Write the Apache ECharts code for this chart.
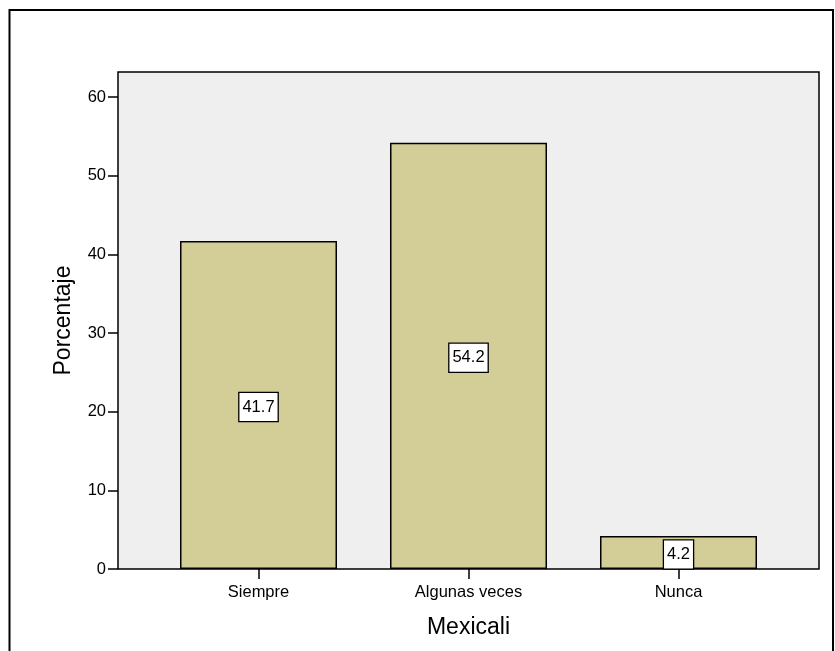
<!DOCTYPE html>
<html>
<head>
<meta charset="utf-8">
<script src="https://cdn.jsdelivr.net/npm/echarts@6/dist/echarts.min.js"></script>
<style>html,body{margin:0;padding:0;background:#fff;}#c{width:835px;height:651px;}</style>
</head>
<body>
<div id="c"></div>
<script>
const categories = ['Siempre', 'Algunas veces', 'Nunca'];
const values = [41.7, 54.2, 4.2];
const yTicks = [0, 10, 20, 30, 40, 50, 60];
const xTitle = 'Mexicali';
const yTitle = 'Porcentaje';

const chart = echarts.init(document.getElementById('c'), null, {renderer: 'canvas'});
const font = 'Liberation Sans, Arial, sans-serif';
chart.setOption({
  animation: false,
  backgroundColor: '#ffffff',
  graphic: [{
    type: 'rect', shape: {x: 9.5, y: 10, width: 823.5, height: 700},
    style: {fill: 'none', stroke: '#000', lineWidth: 2}, z: 100, silent: true
  }],
  grid: [
    {left: 153.5, width: 630, top: 97, bottom: 82, show: false},
    {left: 118, right: 16, top: 72, bottom: 82, show: true, backgroundColor: '#efefef', borderColor: '#000', borderWidth: 1.5, z: 0}
  ],
  xAxis: [
    {type: 'category', gridIndex: 0, data: categories,
     axisLine: {show: false},
     axisTick: {show: true, alignWithLabel: true, length: 10, lineStyle: {color: '#000', width: 1.5}},
     axisLabel: {color: '#000', fontSize: 16.5, fontFamily: font, margin: 15},
     name: xTitle, nameLocation: 'middle', nameGap: 47,
     nameTextStyle: {color: '#000', fontSize: 23, fontFamily: font}},
    {type: 'value', gridIndex: 1, show: false, min: 0, max: 1}
  ],
  yAxis: [
    {type: 'value', gridIndex: 0, min: 0, max: yTicks[yTicks.length - 1], interval: 10, offset: 35.5,
     axisLine: {show: false},
     axisTick: {show: true, length: 10, lineStyle: {color: '#000', width: 1.5}},
     axisLabel: {color: '#000', fontSize: 16.5, fontFamily: font, margin: 12},
     splitLine: {show: false}},
    {type: 'value', gridIndex: 1, min: 0, max: 1, show: true,
     axisLine: {show: false}, axisTick: {show: false}, axisLabel: {show: false}, splitLine: {show: false},
     name: yTitle, nameLocation: 'middle', nameGap: 43,
     nameTextStyle: {color: '#000', fontSize: 23, fontFamily: font}}
  ],
  series: [{
    type: 'bar', xAxisIndex: 0, yAxisIndex: 0, data: values, barWidth: 157,
    itemStyle: {color: '#d3ce98', borderColor: '#000', borderWidth: 1.5},
    label: {show: true, position: 'inside', offset: [0, 2], color: '#000', fontSize: 16.5, fontFamily: font,
      backgroundColor: '#fff', borderColor: '#000', borderWidth: 1.3, padding: [6, 3, 5, 3],
      formatter: p => p.value.toFixed(1)},
    z: 3
  }]
});
</script>
</body>
</html>
